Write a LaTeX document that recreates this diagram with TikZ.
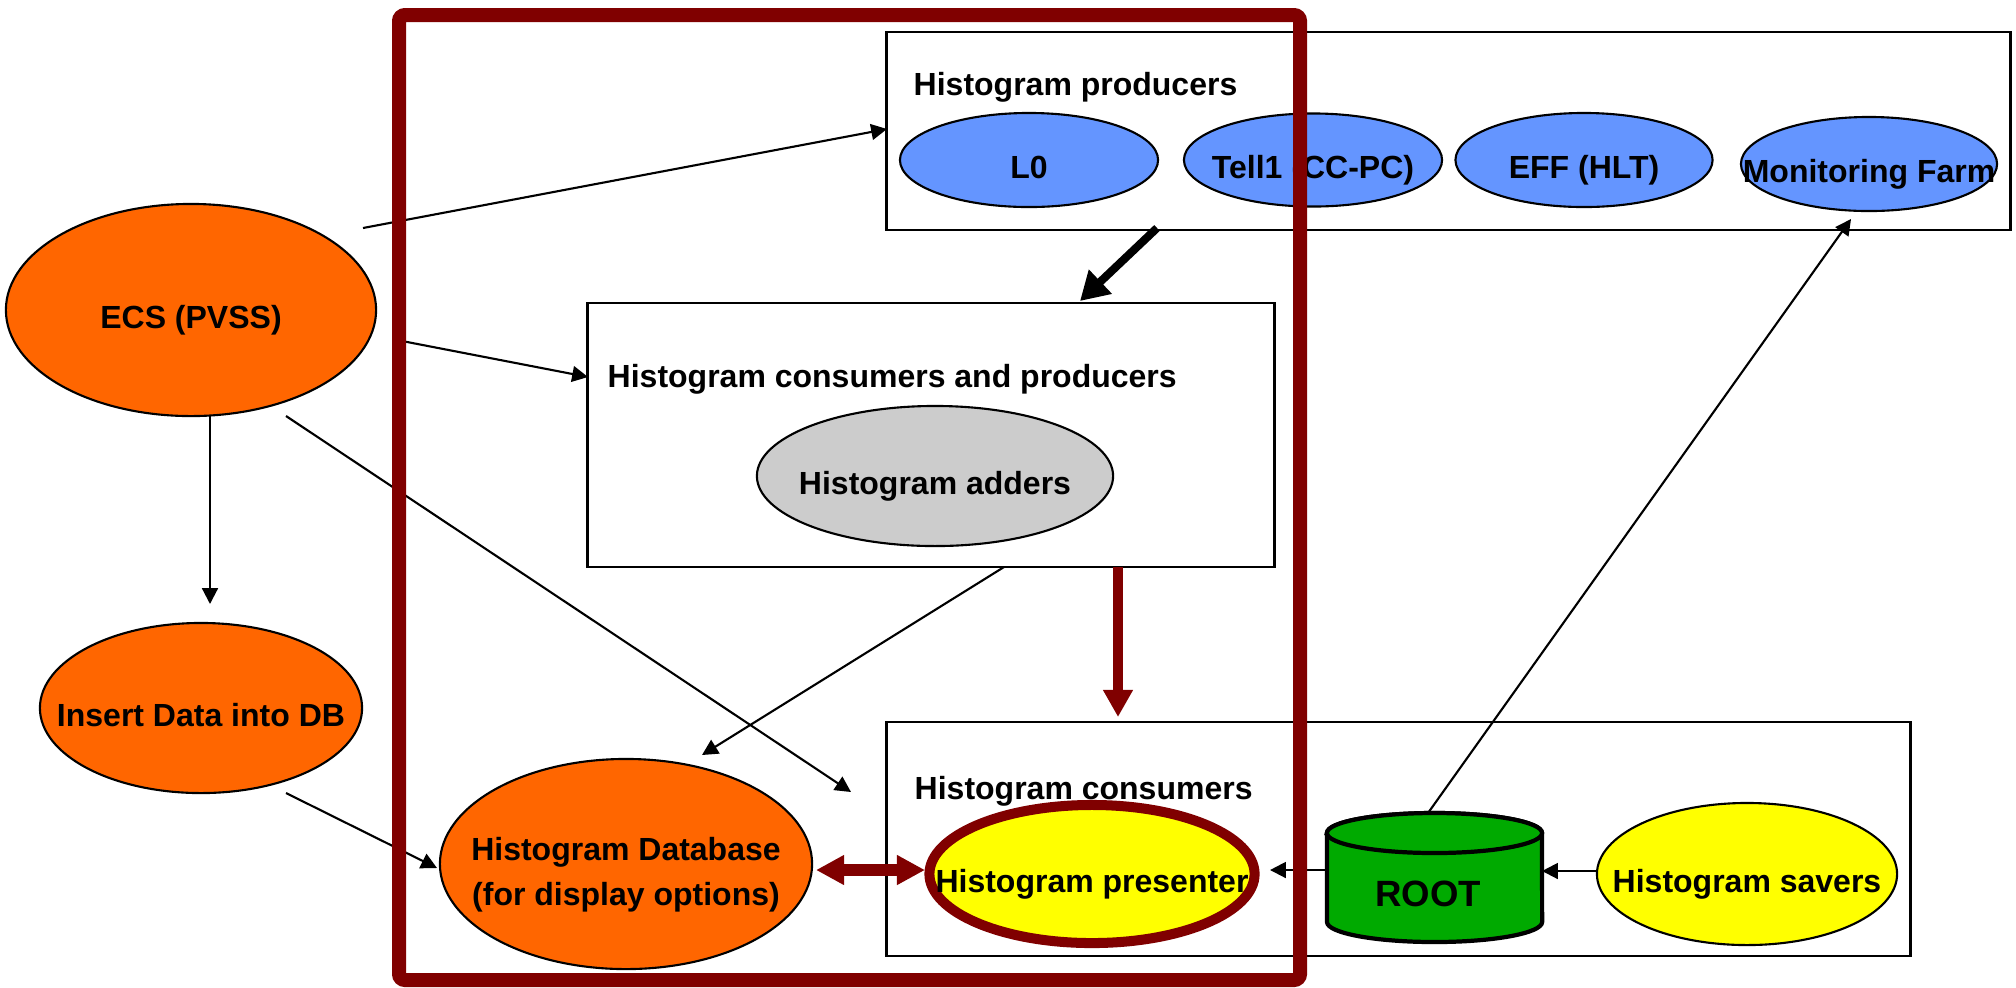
\documentclass[tikz,border=0pt]{standalone}
\usepackage{fontspec}
\setmainfont{Liberation Sans}
\usetikzlibrary{shapes.geometric,arrows.meta}
\definecolor{orng}{HTML}{FF6600}
\definecolor{blu}{HTML}{6495FF}
\definecolor{gry}{HTML}{CCCCCC}
\definecolor{yel}{HTML}{FFFF00}
\definecolor{grn}{HTML}{00AA00}
\definecolor{dkred}{HTML}{800000}
\newcommand\zw[1]{\makebox[0pt]{#1}}
\begin{document}
\begin{tikzpicture}[x=0.01cm,y=-0.01cm,
  font=\fontsize{9.1}{12.8}\selectfont\bfseries,
  ell/.style={ellipse, draw=black, line width=0.6pt, inner sep=0pt, text height=0.37cm, text depth=0pt},
  box/.style={rectangle, draw=black, line width=0.75pt, inner sep=0pt},
  lbl/.style={anchor=base west, inner sep=0pt},
  arr/.style={-{Triangle[length=4.5pt,width=4.5pt]}, line width=0.6pt},
  bigarr/.style={-{Triangle[length=8pt,width=9pt]}, line width=2.3pt},
  redarr/.style={-{Triangle[length=7.7pt,width=8pt]}, line width=2.9pt, draw=dkred, color=dkred},
  redarr2/.style={{Triangle[length=8pt,width=8pt]}-{Triangle[length=8pt,width=8pt]}, line width=3.2pt, draw=dkred, color=dkred},
  cyl/.style={fill=grn, draw=black, line width=1.2pt}
]
\useasboundingbox (0,0) rectangle (2016,987);
\fill[white] (0,0) rectangle (2016,987);

% boxes
\node[box, minimum width=11.23cm, minimum height=1.98cm] (prod) at (1448.5,131) {};
\node[lbl] (prodlbl) at (913,95) {Histogram producers};
\node[box, minimum width=6.86cm, minimum height=2.64cm] (cp) at (931,435) {};
\node[lbl] (cplbl) at (607,387) {Histogram consumers and producers};
\node[box, minimum width=10.23cm, minimum height=2.34cm] (cons) at (1398.5,839) {};
\node[lbl] (conslbl) at (914,799) {Histogram consumers};

% producers
\node[ell, fill=blu, minimum width=2.58cm, minimum height=0.94cm] (l0) at (1029,160) {\zw{L0}};
\node[ell, fill=blu, minimum width=2.58cm, minimum height=0.93cm] (tell) at (1313,160) {\zw{Tell1 (CC-PC)}};
\node[ell, fill=blu, minimum width=2.57cm, minimum height=0.94cm] (eff) at (1584,160) {\zw{EFF (HLT)}};
\node[ell, fill=blu, minimum width=2.56cm, minimum height=0.94cm] (mon) at (1869,164) {\zw{Monitoring Farm}};

% left side
\node[ell, fill=orng, minimum width=3.70cm, minimum height=2.12cm] (ecs) at (191,310) {\zw{ECS (PVSS)}};
\node[ell, fill=orng, minimum width=3.22cm, minimum height=1.70cm] (ins) at (201,708) {\zw{Insert Data into DB}};
\node[ell, fill=gry, minimum width=3.56cm, minimum height=1.40cm] (add) at (935,476) {\zw{Histogram adders}};
\node[ellipse, draw=black, line width=0.6pt, inner sep=0pt, fill=orng, minimum width=3.72cm, minimum height=2.10cm] (db) at (626,864)
  {\zw{\raisebox{-0.18cm}[0pt][0pt]{\begin{tabular}{@{}c@{}}Histogram Database\\(for display options)\end{tabular}}}};
\node[ell, fill=yel, draw=dkred, line width=2.85pt, minimum width=3.25cm, minimum height=1.38cm] (pres) at (1092,874) {\zw{Histogram presenter}};
\node[ell, fill=yel, minimum width=3.00cm, minimum height=1.42cm] (sav) at (1747,874) {\zw{Histogram savers}};

% ROOT cylinder
\node[minimum width=2.15cm, minimum height=1.29cm, inner sep=0pt] (root) at (1434.5,877.5) {};
\filldraw[cyl] (1327,833) -- (1327,922) arc[start angle=180,end angle=360,x radius=1.075cm,y radius=0.2cm]
  -- (1542,833) arc[start angle=0,end angle=180,x radius=1.075cm,y radius=0.2cm] -- cycle;
\draw[cyl] (1434.5,833) ellipse [x radius=1.075cm, y radius=0.2cm];
\node[font=\fontsize{10.4}{12}\selectfont\bfseries] (roottext) at (1428,894) {ROOT};

% connector end points
\coordinate (a1s) at (363,228);   \coordinate (a1e) at (887,129);
\coordinate (a2s) at (402,341);   \coordinate (a2e) at (588,377);
\coordinate (a3s) at (286,416);   \coordinate (a3e) at (851,792);
\coordinate (a4s) at (210,416);   \coordinate (a4e) at (210,604);
\coordinate (a5s) at (286,793);   \coordinate (a5e) at (437,868);
\coordinate (a6s) at (1004,567);  \coordinate (a6e) at (702,755);
\coordinate (a7s) at (1157,228);  \coordinate (a7e) at (1080,301);
\coordinate (a8s) at (1118,567);  \coordinate (a8e) at (1118,717);
\coordinate (a9s) at (816,870);   \coordinate (a9e) at (925,870);
\coordinate (b1s) at (1327,870);  \coordinate (b1e) at (1270,870);
\coordinate (b2s) at (1597,871);  \coordinate (b2e) at (1542,871);
\coordinate (b3s) at (1428,813);  \coordinate (b3e) at (1851,219);

\draw[arr] (a1s) -- (a1e);
\draw[arr] (a2s) -- (a2e);
\draw[arr] (a3s) -- (a3e);
\draw[arr] (a4s) -- (a4e);
\draw[arr] (a5s) -- (a5e);
\draw[arr] (a6s) -- (a6e);
\draw[bigarr] (a7s) -- (a7e);
\draw[redarr] (a8s) -- (a8e);
\draw[redarr2] (a9s) -- (a9e);
\draw[arr] (b1s) -- (b1e);
\draw[arr] (b2s) -- (b2e);
\draw[arr] (b3s) -- (b3e);

% highlight frame
\draw[dkred, line width=0.14cm, rounded corners=0.06cm] (399,15) rectangle (1300,980);
\end{tikzpicture}
\end{document}
